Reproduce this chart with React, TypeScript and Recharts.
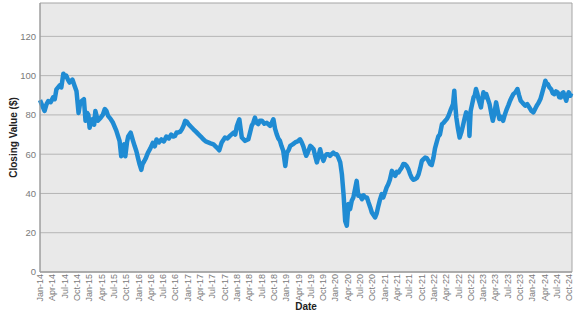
import React from "react";
import { LineChart, Line, XAxis, YAxis, CartesianGrid, ReferenceArea } from "recharts";

// months elapsed since Jan 2014 (fractional) and closing values ($)
const months: number[] = [
  0, 0.5, 1.1, 1.6, 2, 2.6, 3.2, 3.6, 4, 4.8, 5.2, 5.7, 6.1, 6.4, 6.8, 7.2, 7.9, 8.4, 8.9, 9.4,
  9.7, 10.1, 10.7, 11.1, 11.5, 11.8, 12.1, 12.5, 12.9, 13.2, 13.5, 14.1, 14.8, 15.3, 15.8, 16.2, 16.6, 17.2, 17.8, 18.6,
  19.4, 19.8, 20.2, 20.5, 20.8, 21.2, 21.5, 22.1, 22.7, 23.1, 23.5, 23.9, 24.3, 24.7, 25, 25.4, 25.8, 26.3, 26.9, 27.5,
  28, 28.4, 29, 29.6, 30.2, 30.8, 31.4, 32, 32.5, 32.9, 33.3, 33.7, 34.2, 34.6, 35, 35.4, 35.8, 36.2, 36.8, 37.4,
  38, 38.6, 39.2, 39.8, 40.4, 41, 41.6, 42.3, 43.1, 43.7, 44.3, 45.1, 45.7, 46.3, 47.2, 47.6, 48, 48.6, 49.2, 50,
  50.8, 51.2, 51.6, 52, 52.4, 52.8, 53.2, 53.6, 54.1, 54.7, 55.3, 56.1, 56.5, 56.9, 57.3, 57.7, 58.1, 58.5, 58.9, 59.3,
  59.8, 60.2, 60.6, 61, 61.6, 62.2, 62.8, 63.4, 63.8, 64.2, 64.6, 64.9, 65.3, 65.9, 66.3, 66.7, 67.1, 67.5, 67.9, 68.3,
  68.7, 69.1, 69.5, 69.9, 70.3, 70.7, 71.1, 71.5, 71.9, 72.3, 72.7, 73.2, 73.6, 74, 74.4, 74.8, 75.2, 75.6, 76, 76.4,
  76.8, 77.2, 77.6, 78, 78.5, 78.9, 79.3, 79.7, 80.1, 80.5, 80.9, 81.3, 81.7, 82.1, 82.5, 82.9, 83.3, 83.7, 84.1, 84.5,
  84.9, 85.3, 85.8, 86.2, 86.6, 87, 87.4, 87.8, 88.2, 88.6, 89, 89.4, 89.8, 90.2, 90.6, 91, 91.5, 91.9, 92.3, 92.7,
  93.1, 93.5, 93.9, 94.3, 94.7, 95.1, 95.5, 95.9, 96.3, 96.7, 97.1, 97.5, 98, 98.4, 98.8, 99.2, 99.6, 100.2, 100.7, 101,
  101.2, 101.5, 101.9, 102.3, 102.7, 103.1, 103.5, 103.9, 104.3, 104.5, 104.7, 104.85, 105, 105.3, 105.7, 106, 106.3, 106.6, 106.9, 107.2,
  107.5, 107.8, 108.1, 108.4, 108.8, 109.2, 109.6, 110, 110.4, 110.8, 111.2, 111.6, 112, 112.4, 112.9, 113.3, 113.8, 114.2, 114.6, 115,
  115.4, 115.9, 116.4, 116.8, 117.2, 117.7, 118.3, 118.8, 119.3, 119.8, 120.3, 120.7, 121.1, 121.5, 122, 122.4, 122.8, 123.2, 123.5, 123.8,
  124.2, 124.6, 125, 125.4, 125.8, 126.2, 126.6, 127, 127.3, 127.6, 128, 128.3, 128.6, 128.9, 129.3, 129.5,
];

const closing: number[] = [
  87.5, 85, 82, 85.5, 87, 86.5, 89, 88, 93, 95, 94, 101, 99.5, 100, 98, 96.5, 98, 95, 92, 81,
  85, 87, 88, 77, 81, 80, 73.5, 77, 78, 75, 82, 77, 78.6, 80, 83, 82, 79.5, 78, 76, 72,
  66.7, 59, 64, 65, 59, 66, 69, 71, 66.7, 64, 61.5, 58, 54.7, 52, 55, 56.4, 58, 60.7, 63, 65.8,
  64, 67.5, 66, 67.5, 66.5, 69, 68, 70, 69, 69.3, 71, 71, 71.5, 72.7, 74.5, 77, 76.5, 75.3, 74, 72.7,
  71.5, 70.2, 69, 67.6, 66.5, 66, 65.5, 65, 63.4, 62, 66, 68.5, 68, 69.3, 71, 70, 74.4, 77.8, 68.5, 66.8,
  67.6, 71, 74.4, 76, 78.6, 76, 75.3, 77, 77, 75.5, 76, 74.4, 76, 77.8, 73, 70.2, 68, 66.8, 64, 61.7,
  54, 60.8, 62, 64.2, 65, 66, 66.5, 67.6, 66, 64, 61, 59.2, 61, 64.2, 63.5, 62.5, 59, 55.8, 59, 62.5,
  59, 56.6, 59, 60, 60, 59.2, 60, 60.8, 60, 60, 58.5, 55.8, 49.8, 39.7, 26, 23.6, 34.6, 32, 36.3, 38,
  42.2, 46.4, 38.8, 39, 37.1, 39, 38, 38, 35.4, 33, 30.3, 29, 27.8, 30, 33.7, 37, 39.7, 38, 40.5, 43,
  44.7, 47, 51.5, 50, 49, 51, 50.7, 52, 53.2, 55, 54.9, 54, 52.4, 50, 48.1, 47, 47.3, 48, 49.8, 53,
  56.6, 57.5, 58.3, 58, 56.6, 55, 54.5, 58, 63, 66, 69, 70, 75.3, 76, 77, 78, 79.6, 83, 85.5, 92.3,
  86, 78.7, 73, 68.5, 71, 74.4, 78, 81.3, 80, 79.6, 69.3, 76, 82.1, 85, 88.9, 90, 93.2, 91, 88.1, 86,
  83.8, 88, 91.5, 89, 90.6, 88, 85.5, 81, 77, 81, 86.4, 82, 77.9, 79, 77, 80, 83, 85, 87.2, 89,
  90.6, 91.5, 93.2, 90, 87.2, 86, 84.7, 85.5, 83.8, 82, 81.3, 83, 84.7, 86, 88.1, 91, 94, 97.4, 96, 95.7,
  94, 93.2, 91, 90.6, 92, 91.5, 89, 88.9, 91, 91.5, 89, 87.2, 90, 91.5, 89.8, 91,
];

const tickLabels: string[] = [
  "Jan-14", "Apr-14", "Jul-14", "Oct-14", "Jan-15", "Apr-15", "Jul-15", "Oct-15",
  "Jan-16", "Apr-16", "Jul-16", "Oct-16", "Jan-17", "Apr-17", "Jul-17", "Oct-17",
  "Jan-18", "Apr-18", "Jul-18", "Oct-18", "Jan-19", "Apr-19", "Jul-19", "Oct-19",
  "Jan-20", "Apr-20", "Jul-20", "Oct-20", "Jan-21", "Apr-21", "Jul-21", "Oct-21",
  "Jan-22", "Apr-22", "Jul-22", "Oct-22", "Jan-23", "Apr-23", "Jul-23", "Oct-23",
  "Jan-24", "Apr-24", "Jul-24", "Oct-24",
];

const yTicks: number[] = [0, 20, 40, 60, 80, 100, 120];

const data = months.map((t, i) => ({ t, value: closing[i] }));
const xTicks = tickLabels.map((_, i) => i * 3);
const X_MAX = 129.7;
const Y_MAX = 137;

const FONT = "'Liberation Sans', Arial, sans-serif";

const XTick = (props: any) => {
  const { x, y, payload } = props;
  const label = tickLabels[Math.round(payload.value / 3)];
  return (
    <text
      x={x}
      y={y}
      transform={`rotate(-90 ${x} ${y})`}
      textAnchor="end"
      dy="0.35em"
      fontSize={9}
      fill="#7a7a7a"
      fontFamily={FONT}
    >
      {label}
    </text>
  );
};

const YTitle = (props: any) => {
  const vb = props.viewBox || { x: 0, y: 3, width: 40, height: 269 };
  const cx = 13.5;
  const cy = vb.y + vb.height / 2;
  return (
    <text
      x={cx}
      y={cy}
      transform={`rotate(-90 ${cx} ${cy})`}
      textAnchor="middle"
      dy="0.35em"
      fontSize={10}
      fontWeight="bold"
      fill="#222"
      fontFamily={FONT}
    >
      Closing Value ($)
    </text>
  );
};

const XTitle = (props: any) => {
  const vb = props.viewBox || { x: 40, y: 272, width: 532, height: 43 };
  return (
    <text
      x={vb.x + vb.width / 2}
      y={309.5}
      textAnchor="middle"
      fontSize={10}
      fontWeight="bold"
      fill="#222"
      fontFamily={FONT}
    >
      Date
    </text>
  );
};

export default function App() {
  return (
    <div style={{ position: "absolute", left: 0, top: 0, width: 577, height: 315, background: "#fff" }}>
      <LineChart width={577} height={315} data={data} margin={{ top: 3, right: 5, bottom: 0, left: 0 }}>
        <CartesianGrid vertical={false} fill="#e9e9e9" stroke="#b5b5b5" strokeWidth={1} horizontalValues={yTicks} />
        <XAxis
          dataKey="t"
          type="number"
          domain={[0, X_MAX]}
          ticks={xTicks}
          interval={0}
          height={43}
          tickSize={0}
          tickMargin={2}
          tickLine={false}
          axisLine={{ stroke: "#9a9a9a" }}
          tick={<XTick />}
          label={<XTitle />}
        />
        <YAxis
          type="number"
          domain={[0, Y_MAX]}
          ticks={yTicks}
          width={40}
          tickSize={0}
          tickMargin={4}
          tickLine={false}
          axisLine={{ stroke: "#9a9a9a" }}
          tick={{ fontSize: 9.5, fill: "#7a7a7a", fontFamily: FONT }}
          label={<YTitle />}
        />
        <ReferenceArea x1={0} x2={X_MAX} y1={0} y2={Y_MAX} fill="none" stroke="#a5a5a5" strokeWidth={1} ifOverflow="visible" />
        <Line
          type="linear"
          dataKey="value"
          stroke="#1f8bd3"
          strokeWidth={4.5}
          dot={false}
          isAnimationActive={false}
          strokeLinejoin="round"
        />
      </LineChart>
    </div>
  );
}
